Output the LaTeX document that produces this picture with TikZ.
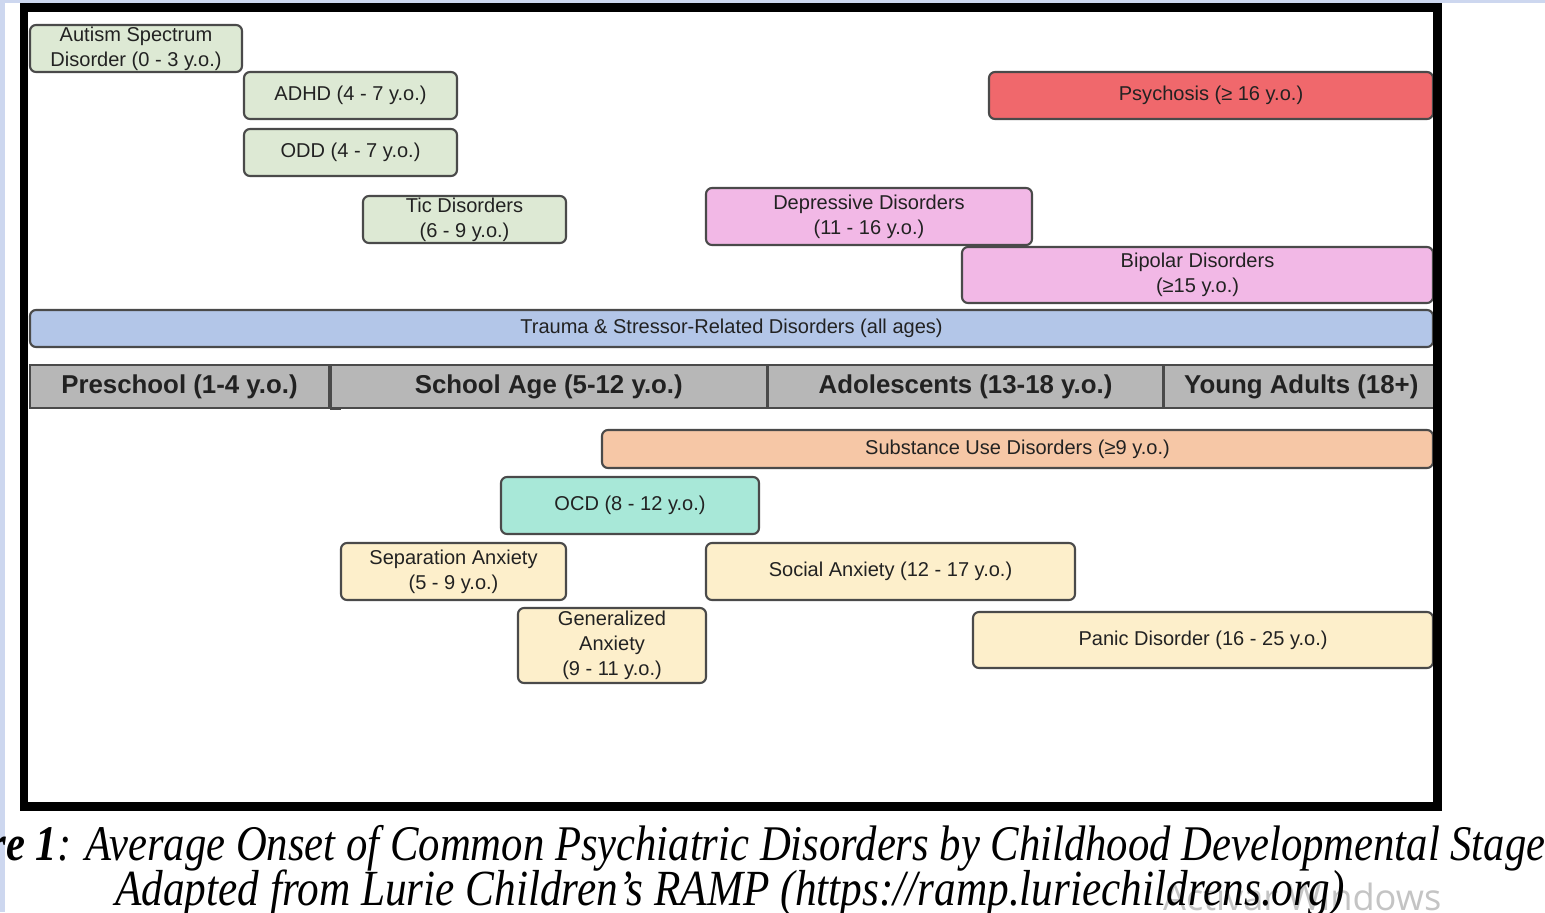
\documentclass[tikz,border=0pt]{standalone}
\usepackage{fontspec}
\usepackage{tikz}
\usetikzlibrary{positioning}
\newfontfamily\boxfont{Liberation Sans}
\newfontfamily\capfont[FakeStretch=0.855]{Liberation Serif}
\newfontfamily\winfont{Open Sans}
\definecolor{OnsetGreen}{HTML}{DDE9D4}
\definecolor{OnsetRed}{HTML}{F0686C}
\definecolor{OnsetPink}{HTML}{F2B8E6}
\definecolor{OnsetBlue}{HTML}{B3C6E8}
\definecolor{OnsetPeach}{HTML}{F6C7A6}
\definecolor{OnsetTeal}{HTML}{A8E8D8}
\definecolor{OnsetYellow}{HTML}{FDEFCB}
\definecolor{StageGrey}{HTML}{B7B7B7}
\definecolor{BoxEdge}{HTML}{4A4A4A}
\definecolor{BoxText}{HTML}{222222}
\definecolor{ScreenBlue}{HTML}{CDD7EF}
\definecolor{WinGrey}{HTML}{C4C4C4}
\tikzset{
    onset/.style={draw=BoxEdge, rounded corners=0.06cm, line width=0.6pt,
                  align=center, inner sep=0pt, text=BoxText,
                  font={\boxfont\fontsize{5.7}{7.1}\selectfont}},
    greenbox/.style={onset, fill=OnsetGreen},
    redbox/.style={onset, fill=OnsetRed},
    pinkbox/.style={onset, fill=OnsetPink},
    bluebox/.style={onset, fill=OnsetBlue},
    peachbox/.style={onset, fill=OnsetPeach},
    tealbox/.style={onset, fill=OnsetTeal},
    yellowbox/.style={onset, fill=OnsetYellow},
    stage/.style={draw=BoxEdge, fill=StageGrey, line width=0.5pt,
                  minimum height=0.43cm, inner sep=0pt, text=BoxText,
                  font={\boxfont\bfseries\fontsize{7.35}{8}\selectfont}},
    % Frame and caption
    frame/.style={line width=2.4pt, black},
    caption/.style={inner sep=0pt, text=black,
                    font={\capfont\itshape\fontsize{14.4}{16}\selectfont}}
}
\begin{document}
\begin{tikzpicture}[x=1cm, y=-1cm]
    \clip (0,0) rectangle (15.45,9.12);
    % Screen background
    \fill[white] (0,0) rectangle (15.45,9.12);
    \fill[ScreenBlue] (0,0) rectangle (0.05,9.12);
    \fill[ScreenBlue] (0,0) rectangle (15.45,0.03);

    % Onsets above the stage bar
    \node[greenbox, minimum width=2.12cm, minimum height=0.47cm] (asd) at (1.36,0.485) {Autism Spectrum\\Disorder (0 - 3 y.o.)};
    \node[greenbox, minimum width=2.13cm, minimum height=0.47cm] (adhd) at (3.505,0.955) {ADHD (4 - 7 y.o.)};
    \node[greenbox, minimum width=2.13cm, minimum height=0.47cm] (odd) at (3.505,1.525) {ODD (4 - 7 y.o.)};
    \node[greenbox, minimum width=2.03cm, minimum height=0.47cm] (tic) at (4.645,2.195) {Tic Disorders\\(6 - 9 y.o.)};
    \node[redbox, minimum width=4.44cm, minimum height=0.47cm] (psychosis) at (12.11,0.955) {Psychosis (≥ 16 y.o.)};
    \node[pinkbox, minimum width=3.26cm, minimum height=0.57cm] (depressive) at (8.69,2.165) {Depressive Disorders\\(11 - 16 y.o.)};
    \node[pinkbox, minimum width=4.71cm, minimum height=0.56cm] (bipolar) at (11.975,2.75) {Bipolar Disorders\\(≥15 y.o.)};
    \node[bluebox, minimum width=14.03cm, minimum height=0.37cm] (trauma) at (7.315,3.285) {Trauma \& Stressor-Related Disorders (all ages)};

    % Developmental stages
    \node[stage, minimum width=2.99cm] (preschool) at (1.795,3.865) {Preschool (1-4 y.o.)};
    \node[stage, minimum width=4.36cm, right=0pt of preschool] (school) {School Age (5-12 y.o.)};
    \node[stage, minimum width=3.94cm, right=0pt of school] (adolescents) {Adolescents (13-18 y.o.)};
    \node[stage, minimum width=2.74cm, right=0pt of adolescents] (young) {Young Adults (18+)};
    \draw[BoxEdge, line width=0.8pt] (preschool.south east) -- ++(0.11,0);

    % Onsets below the stage bar
    \node[peachbox, minimum width=8.31cm, minimum height=0.38cm] (substance) at (10.175,4.49) {Substance Use Disorders (≥9 y.o.)};
    \node[tealbox, minimum width=2.58cm, minimum height=0.57cm] (ocd) at (6.30,5.055) {OCD (8 - 12 y.o.)};
    \node[yellowbox, minimum width=2.25cm, minimum height=0.57cm] (separation) at (4.535,5.715) {Separation Anxiety\\(5 - 9 y.o.)};
    \node[yellowbox, minimum width=3.69cm, minimum height=0.57cm] (social) at (8.905,5.715) {Social Anxiety (12 - 17 y.o.)};
    \node[yellowbox, minimum width=1.88cm, minimum height=0.75cm] (generalized) at (6.12,6.455) {Generalized\\Anxiety\\(9 - 11 y.o.)};
    \node[yellowbox, minimum width=4.60cm, minimum height=0.56cm] (panic) at (12.03,6.40) {Panic Disorder (16 - 25 y.o.)};

    % Frame round the chart
    \draw[frame] (0.24,0.075) rectangle (14.375,8.065);

    % Caption
    \node[WinGrey, font={\winfont\fontsize{10.3}{12}\selectfont}, inner sep=0pt, anchor=base east] (winmark) at (14.42,9.10) {Activar Windows};
    \node[caption, font={\capfont\itshape\fontsize{14.2}{16}\selectfont}, anchor=base west] (capone) at (-0.11,8.60) {{\bfseries re 1}: Average Onset of Common Psychiatric Disorders by Childhood Developmental Stage};
    \node[caption, anchor=base] (captwo) at (7.30,9.05) {Adapted from Lurie Children’s RAMP (https://ramp.luriechildrens.org)};
\end{tikzpicture}
\end{document}
